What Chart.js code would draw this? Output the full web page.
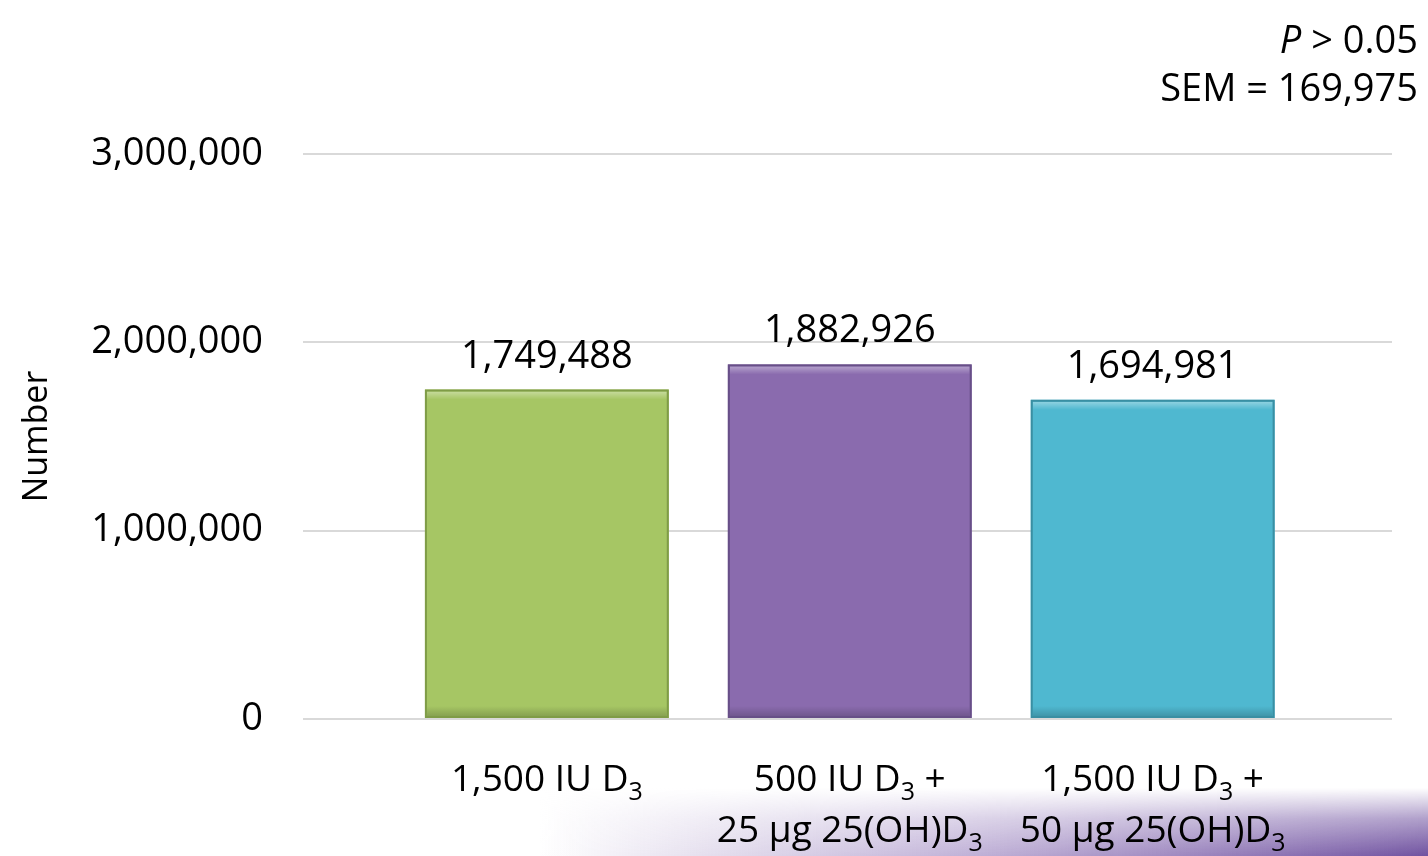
<!DOCTYPE html>
<html>
<head>
<meta charset="utf-8">
<script src="https://cdn.jsdelivr.net/npm/chart.js@4.4.1/dist/chart.umd.min.js"></script>
<style>
    html, body { margin: 0; padding: 0; background: #fff; }
    #wrap { width: 1428px; height: 856px; position: relative; }
</style>
</head>
<body>
<div id="wrap"><canvas id="chart" width="1428" height="856"></canvas></div>
<script>
// Groups, each label line split into [main text, subscript, trailing text]
const groups = [
    [['1,500 IU D', '3', '']],
    [['500 IU D', '3', ' +'], ['25 µg 25(OH)D', '3', '']],
    [['1,500 IU D', '3', ' +'], ['50 µg 25(OH)D', '3', '']]
];
const counts = [1749488, 1882926, 1694981];
const barColors = ['#a6c664', '#8a6bae', '#4fb8d0'];
const edgeColors = ['#7f9c47', '#674f87', '#3a8fa3'];
const yTicks = [0, 1000000, 2000000, 3000000];
const notes = [['P', ' > 0.05'], ['', 'SEM = 169,975']];

const FONT = '"Open Sans", "Noto Sans", sans-serif';
const fmt = n => n.toLocaleString('en-US');

// Lighter top strip and darker lower edge to give the bars a bevelled look
const bevelPlugin = {
    id: 'bevel',
    afterDatasetsDraw(chart) {
        const ctx = chart.ctx;
        chart.getDatasetMeta(0).data.forEach((bar, i) => {
            const left = bar.x - bar.width / 2;
            const top = bar.y;
            const h = bar.base - bar.y;
            const w = bar.width;
            ctx.save();
            const g = ctx.createLinearGradient(0, top, 0, top + 10);
            g.addColorStop(0, 'rgba(255,255,255,0.45)');
            g.addColorStop(1, 'rgba(255,255,255,0)');
            ctx.fillStyle = g;
            ctx.fillRect(left + 2, top + 2, w - 4, 10);
            const b = ctx.createLinearGradient(0, top + h - 12, 0, top + h);
            b.addColorStop(0, 'rgba(0,0,0,0)');
            b.addColorStop(1, 'rgba(0,0,0,0.22)');
            ctx.fillStyle = b;
            ctx.fillRect(left + 2, top + h - 12, w - 4, 10);
            ctx.strokeStyle = edgeColors[i];
            ctx.lineWidth = 2;
            ctx.strokeRect(left + 1, top + 1, w - 2, h - 2);
            ctx.restore();

            // value above the bar
            ctx.save();
            ctx.fillStyle = '#000';
            ctx.font = '38px ' + FONT;
            ctx.textAlign = 'center';
            ctx.textBaseline = 'alphabetic';
            ctx.fillText(fmt(counts[i]), bar.x, top - 22);
            ctx.restore();
        });
    }
};

// Category labels with subscripts, centred under each bar
const xLabelPlugin = {
    id: 'xLabels',
    afterDraw(chart) {
        const ctx = chart.ctx;
        const xs = chart.scales.x;
        const base = chart.chartArea.bottom;
        ctx.save();
        ctx.fillStyle = '#000';
        ctx.textBaseline = 'alphabetic';
        groups.forEach((lines, i) => {
            const cx = xs.getPixelForValue(i);
            lines.forEach((parts, j) => {
                const y = base + 72 + j * 51;
                ctx.font = '37px ' + FONT;
                const w0 = ctx.measureText(parts[0]).width;
                const w2 = ctx.measureText(parts[2]).width;
                ctx.font = '25px ' + FONT;
                const w1 = ctx.measureText(parts[1]).width;
                let x = cx - (w0 + w1 + w2) / 2;
                ctx.textAlign = 'left';
                ctx.font = '37px ' + FONT;
                ctx.fillText(parts[0], x, y);
                x += w0;
                ctx.font = '25px ' + FONT;
                ctx.fillText(parts[1], x, y + 9);
                x += w1;
                ctx.font = '37px ' + FONT;
                ctx.fillText(parts[2], x, y);
            });
        });
        ctx.restore();
    }
};

// Statistics note in the top-right corner and the slide band along the bottom
const decorPlugin = {
    id: 'decor',
    beforeDraw(chart) {
        const ctx = chart.ctx;
        const W = chart.width, H = chart.height;
        const y0 = 788;
        ctx.save();
        const g = ctx.createLinearGradient(540, 0, W, 0);
        g.addColorStop(0, 'rgba(125,95,170,0)');
        g.addColorStop(0.4, 'rgba(140,112,182,0.45)');
        g.addColorStop(1, 'rgba(112,82,160,1)');
        ctx.fillStyle = g;
        ctx.fillRect(540, y0, W - 540, H - y0);
        const v = ctx.createLinearGradient(0, y0, 0, H);
        v.addColorStop(0, 'rgba(255,255,255,1)');
        v.addColorStop(0.45, 'rgba(255,255,255,0.45)');
        v.addColorStop(1, 'rgba(255,255,255,0)');
        ctx.fillStyle = v;
        ctx.fillRect(540, y0, W - 540, H - y0);
        ctx.restore();
    },
    afterDraw(chart) {
        const ctx = chart.ctx;
        ctx.save();
        ctx.fillStyle = '#000';
        ctx.textAlign = 'right';
        ctx.textBaseline = 'alphabetic';
        const right = 1418;
        notes.forEach((n, i) => {
            const y = 53 + i * 48;
            ctx.font = '38px ' + FONT;
            const w = ctx.measureText(n[1]).width;
            ctx.fillText(n[1], right, y);
            if (n[0]) {
                ctx.font = 'italic 38px ' + FONT;
                ctx.fillText(n[0], right - w, y);
            }
        });
        ctx.restore();
    }
};

new Chart(document.getElementById('chart'), {
    type: 'bar',
    data: {
        datasets: [{
            data: counts.map((v, i) => ({ x: i, y: v })),
            backgroundColor: barColors,
            borderWidth: 0,
            barPercentage: 0.805,
            categoryPercentage: 1
        }]
    },
    options: {
        responsive: false,
        animation: false,
        events: [],
        layout: { padding: { top: 154, right: 36, left: 17, bottom: 0 } },
        plugins: {
            legend: { display: false },
            tooltip: { enabled: false }
        },
        scales: {
            x: {
                type: 'linear',
                min: -0.805,
                max: 2.79,
                offset: false,
                afterBuildTicks: s => { s.ticks = counts.map((_, i) => ({ value: i })); },
                grid: { display: false },
                border: { display: false },
                ticks: { display: false },
                afterFit: s => { s.height = 137; }
            },
            y: {
                min: 0,
                max: 3000000,
                afterBuildTicks: s => { s.ticks = yTicks.map(v => ({ value: v })); },
                afterFit: s => { s.width = 286; },
                grid: { color: '#d9d9d9', lineWidth: 2, drawTicks: false },
                border: { display: false },
                ticks: {
                    padding: 40,
                    color: '#000',
                    font: { family: FONT, size: 38 },
                    callback: v => fmt(v)
                },
                title: {
                    display: true,
                    text: 'Number',
                    color: '#000',
                    font: { family: FONT, size: 34 },
                    padding: { top: 0, bottom: 0 }
                }
            }
        }
    },
    plugins: [decorPlugin, bevelPlugin, xLabelPlugin]
});
</script>
</body>
</html>
